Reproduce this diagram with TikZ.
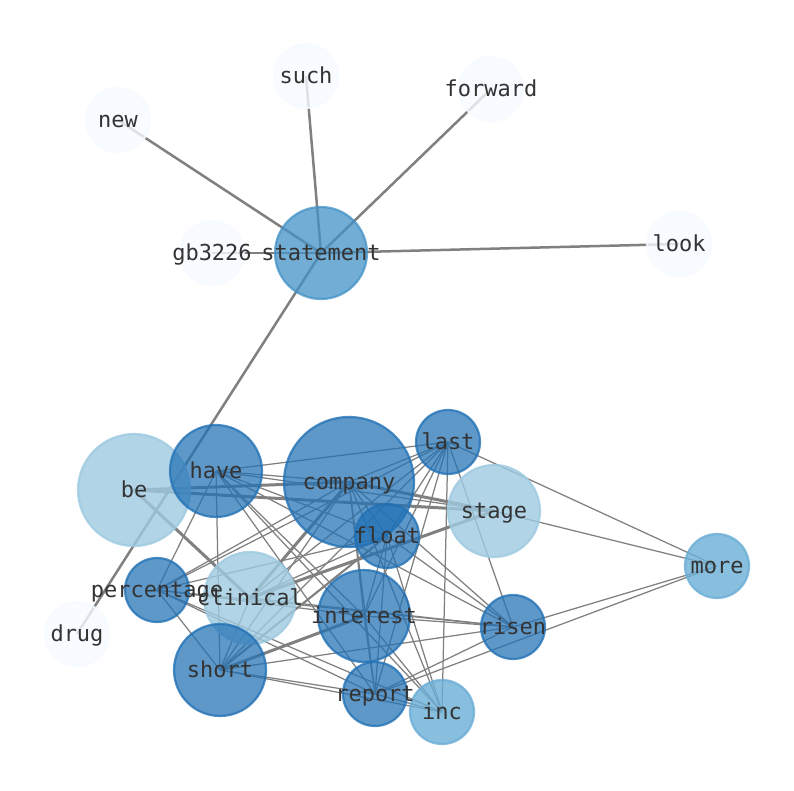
\documentclass[tikz,border=0pt]{standalone}
\usepackage{fontspec}
\setmonofont{DejaVu Sans Mono}
\pgfdeclarelayer{background}
\pgfdeclarelayer{foreground}
\pgfsetlayers{background,main,foreground}
\definecolor{cA}{HTML}{F7FBFF}
\definecolor{cB}{HTML}{9ECAE1}
\definecolor{cC}{HTML}{6BAED6}
\definecolor{cD}{HTML}{4292C6}
\definecolor{cE}{HTML}{2171B5}
\definecolor{edgegray}{HTML}{808080}
\definecolor{labelcol}{HTML}{333333}
\begin{document}
\begin{tikzpicture}[x=1pt,y=-1pt,
  vtx/.style={circle, inner sep=0pt, line width=2.2pt, fill opacity=0.8, draw opacity=0.8},
  smallv/.style={vtx, minimum size=64pt},
  midv/.style={vtx, minimum size=92pt},
  bigv/.style={vtx, minimum size=112pt},
  hugev/.style={vtx, minimum size=130pt},
  vA/.style={fill=cA, draw=cA},
  vB/.style={fill=cB, draw=cB},
  vC/.style={fill=cC, draw=cC},
  vD/.style={fill=cD, draw=cD, fill opacity=0.75, draw opacity=0.75},
  vE/.style={fill=cE, draw=cE, fill opacity=0.72, draw opacity=0.78},
  lbl/.style={inner sep=0pt, text=labelcol, text height=18pt, text depth=4pt,
    font=\ttfamily\fontsize{22}{26}\selectfont},
  thinedge/.style={draw=edgegray, line width=1.25pt},
  midedge/.style={draw=edgegray, line width=2.1pt},
  thickedge/.style={draw=edgegray, line width=3pt},
  hubedge/.style={draw=edgegray, line width=2.5pt}
]
\useasboundingbox (0,0) rectangle (794,790);
% nodes
\node[smallv, vA] (such) at (306,76) {};
\node[smallv, vA] (forward) at (491,89) {};
\node[smallv, vA] (new) at (118,120) {};
\node[smallv, vA] (gb3226) at (212,253) {};
\node[smallv, vA] (look) at (679,244) {};
\node[smallv, vA] (drug) at (77,634) {};
\node[midv, vD] (statement) at (321,253) {};
\node[bigv, vB] (be) at (134,490) {};
\node[midv, vE] (have) at (216,471) {};
\node[hugev, vE] (company) at (349,482) {};
\node[smallv, vE] (float) at (387,536) {};
\node[smallv, vE] (last) at (448,442) {};
\node[midv, vB] (stage) at (494,511) {};
\node[midv, vB] (clinical) at (250,598) {};
\node[smallv, vE] (percentage) at (157,590) {};
\node[midv, vE] (short) at (220,670) {};
\node[midv, vE] (interest) at (364,616) {};
\node[smallv, vE] (report) at (375,694) {};
\node[smallv, vC] (inc) at (442,712) {};
\node[smallv, vE] (risen) at (513,627) {};
\node[smallv, vC] (more) at (717,566) {};
% edges
\begin{pgfonlayer}{background}
\fill[white] (0,0) rectangle (794,790);
\foreach \a in {such,forward,new,gb3226,look,drug}
  \draw[hubedge] (statement.center) -- (\a.center);
\foreach \a/\b in {be/company,be/stage,be/clinical,company/stage,company/clinical,stage/clinical,short/interest}
  \draw[thickedge] (\a.center) -- (\b.center);
\draw[midedge] (short.center) -- (float.center);
\foreach \a/\b in {have/last,have/company,have/float,have/interest,have/risen,have/report,have/inc,have/short,have/percentage,have/stage,
  company/last,company/float,company/interest,company/risen,company/report,company/inc,company/percentage,company/short,
  last/clinical,last/percentage,last/short,last/interest,last/float,last/report,last/risen,last/more,last/inc,
  stage/more,
  float/percentage,float/interest,float/risen,float/report,float/inc,float/clinical,
  percentage/short,percentage/report,percentage/inc,percentage/risen,percentage/interest,
  clinical/risen,clinical/short,
  interest/report,interest/inc,interest/risen,
  risen/report,risen/short,risen/more,
  short/report,short/inc,
  report/inc,report/more}
  \draw[thinedge] (\a.center) -- (\b.center);
\end{pgfonlayer}
% labels
\begin{pgfonlayer}{foreground}
\foreach \n in {such,forward,new,gb3226,look,drug,statement,be,have,company,float,last,stage,clinical,percentage,short,interest,report,inc,risen,more}
  \node[lbl] (L\n) at (\n.center) {\n};
\end{pgfonlayer}
\end{tikzpicture}
\end{document}
